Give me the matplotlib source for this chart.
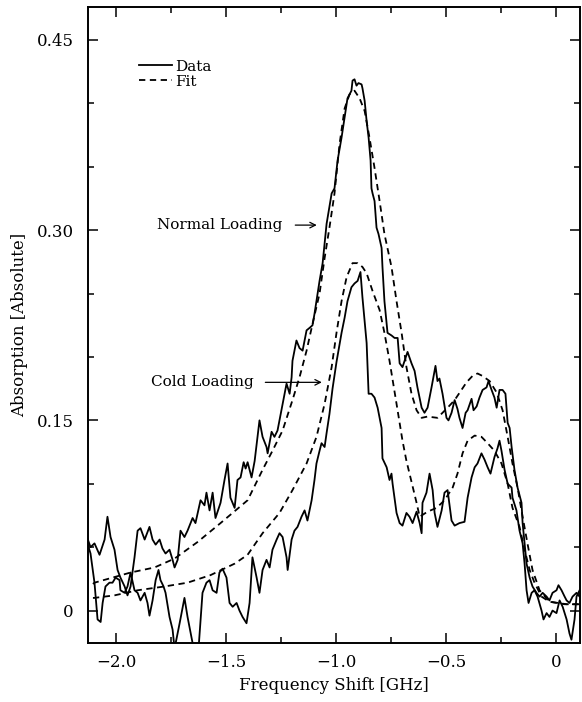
import matplotlib
matplotlib.use('Agg')
import matplotlib.pyplot as plt
from matplotlib.ticker import MultipleLocator

plt.rcParams['font.family'] = ['DejaVu Serif']

# Normal loading, measured
normal_x = [-2.130, -2.116, -2.098, -2.075, -2.052, -2.039, -2.025, -2.007, -1.993, -1.980,
            -1.961, -1.948, -1.934, -1.916, -1.902, -1.889, -1.870, -1.848, -1.834, -1.820,
            -1.802, -1.789, -1.775, -1.757, -1.743, -1.734, -1.720, -1.707, -1.689, -1.675,
            -1.652, -1.639, -1.616, -1.598, -1.589, -1.575, -1.561, -1.548, -1.525, -1.507,
            -1.493, -1.480, -1.461, -1.448, -1.434, -1.420, -1.411, -1.402, -1.384, -1.370,
            -1.357, -1.348, -1.334, -1.316, -1.311, -1.293, -1.280, -1.266, -1.243, -1.225,
            -1.211, -1.202, -1.198, -1.180, -1.166, -1.152, -1.134, -1.120, -1.107, -1.098,
            -1.089, -1.075, -1.061, -1.043, -1.020, -1.007, -0.993, -0.975, -0.961, -0.952,
            -0.948, -0.930, -0.925, -0.916, -0.907, -0.898, -0.884, -0.880, -0.870, -0.861,
            -0.852, -0.843, -0.839, -0.834, -0.825, -0.816, -0.807, -0.793, -0.789, -0.780,
            -0.766, -0.748, -0.734, -0.720, -0.711, -0.698, -0.675, -0.657, -0.643, -0.630,
            -0.611, -0.598, -0.584, -0.566, -0.548, -0.539, -0.530, -0.516, -0.498, -0.489,
            -0.475, -0.461, -0.448, -0.439, -0.425, -0.411, -0.402, -0.384, -0.375, -0.361,
            -0.348, -0.334, -0.316, -0.307, -0.293, -0.280, -0.270, -0.257, -0.243, -0.230,
            -0.220, -0.211, -0.202, -0.189, -0.175, -0.157, -0.152, -0.143, -0.134, -0.120,
            -0.107, -0.089, -0.075, -0.061, -0.043, -0.030, -0.016, 0.002, 0.011, 0.025,
            0.039, 0.048, 0.061, 0.075, 0.093, 0.107]
normal_y = [0.057, 0.050, 0.053, 0.044, 0.056, 0.074, 0.058, 0.048, 0.032, 0.026,
            0.019, 0.012, 0.019, 0.042, 0.063, 0.065, 0.056, 0.066, 0.056, 0.052,
            0.056, 0.049, 0.045, 0.048, 0.040, 0.034, 0.040, 0.063, 0.058, 0.063,
            0.073, 0.069, 0.087, 0.083, 0.093, 0.079, 0.093, 0.073, 0.085, 0.103,
            0.116, 0.089, 0.081, 0.103, 0.105, 0.117, 0.112, 0.117, 0.105, 0.118,
            0.137, 0.150, 0.137, 0.129, 0.124, 0.141, 0.137, 0.142, 0.163, 0.179,
            0.171, 0.184, 0.197, 0.213, 0.207, 0.205, 0.221, 0.223, 0.225, 0.234,
            0.244, 0.260, 0.274, 0.305, 0.329, 0.333, 0.355, 0.373, 0.389, 0.399,
            0.404, 0.410, 0.418, 0.419, 0.414, 0.416, 0.415, 0.412, 0.402, 0.386,
            0.373, 0.355, 0.333, 0.329, 0.323, 0.302, 0.297, 0.286, 0.271, 0.244,
            0.219, 0.217, 0.215, 0.215, 0.195, 0.192, 0.204, 0.195, 0.189, 0.176,
            0.160, 0.156, 0.160, 0.176, 0.193, 0.181, 0.183, 0.171, 0.152, 0.150,
            0.156, 0.166, 0.159, 0.152, 0.144, 0.156, 0.158, 0.167, 0.158, 0.161,
            0.168, 0.174, 0.176, 0.181, 0.174, 0.168, 0.160, 0.174, 0.174, 0.171,
            0.148, 0.144, 0.129, 0.111, 0.097, 0.085, 0.069, 0.053, 0.037, 0.026,
            0.019, 0.014, 0.011, 0.014, 0.011, 0.008, 0.014, 0.016, 0.020, 0.016,
            0.011, 0.008, 0.006, 0.011, 0.014, 0.011]

# Cold loading, measured
cold_x = [-2.130, -2.116, -2.098, -2.084, -2.070, -2.061, -2.048, -2.030, -2.016, -2.002,
          -1.984, -1.980, -1.961, -1.948, -1.934, -1.916, -1.902, -1.889, -1.870, -1.857,
          -1.848, -1.834, -1.820, -1.807, -1.798, -1.784, -1.775, -1.757, -1.743, -1.734,
          -1.711, -1.689, -1.675, -1.657, -1.645, -1.625, -1.607, -1.589, -1.575, -1.561,
          -1.543, -1.530, -1.516, -1.498, -1.484, -1.470, -1.452, -1.439, -1.425, -1.407,
          -1.393, -1.380, -1.361, -1.348, -1.334, -1.316, -1.302, -1.289, -1.270, -1.257,
          -1.243, -1.225, -1.220, -1.202, -1.189, -1.175, -1.157, -1.143, -1.130, -1.111,
          -1.098, -1.089, -1.075, -1.066, -1.052, -1.043, -1.030, -1.016, -0.998, -0.975,
          -0.961, -0.948, -0.930, -0.916, -0.902, -0.889, -0.880, -0.861, -0.852, -0.839,
          -0.825, -0.811, -0.793, -0.789, -0.770, -0.757, -0.748, -0.743, -0.725, -0.711,
          -0.698, -0.680, -0.666, -0.652, -0.634, -0.620, -0.611, -0.607, -0.589, -0.575,
          -0.561, -0.552, -0.539, -0.520, -0.507, -0.493, -0.475, -0.461, -0.439, -0.416,
          -0.402, -0.384, -0.370, -0.357, -0.339, -0.325, -0.311, -0.298, -0.280, -0.266,
          -0.257, -0.248, -0.234, -0.220, -0.202, -0.198, -0.180, -0.166, -0.152, -0.143,
          -0.134, -0.125, -0.111, -0.098, -0.084, -0.066, -0.057, -0.043, -0.030, -0.016,
          0.002, 0.016, 0.030, 0.048, 0.061, 0.070, 0.084, 0.093, 0.107]
cold_y = [0.053, 0.045, 0.022, -0.007, -0.009, 0.006, 0.019, 0.022, 0.022, 0.026,
          0.024, 0.016, 0.014, 0.019, 0.030, 0.016, 0.014, 0.008, 0.014, 0.006,
          -0.004, 0.008, 0.024, 0.032, 0.024, 0.019, 0.014, -0.005, -0.015, -0.030,
          -0.010, 0.010, -0.005, -0.021, -0.032, -0.030, 0.014, 0.022, 0.024, 0.016,
          0.014, 0.030, 0.033, 0.026, 0.006, 0.003, 0.006, 0.000, -0.005, -0.010,
          0.006, 0.042, 0.026, 0.014, 0.032, 0.040, 0.034, 0.048, 0.056, 0.061,
          0.058, 0.042, 0.032, 0.056, 0.063, 0.066, 0.074, 0.079, 0.071, 0.087,
          0.103, 0.116, 0.126, 0.132, 0.129, 0.140, 0.155, 0.175, 0.196, 0.219,
          0.231, 0.244, 0.255, 0.258, 0.260, 0.267, 0.247, 0.211, 0.171, 0.171,
          0.168, 0.160, 0.144, 0.120, 0.113, 0.103, 0.108, 0.100, 0.077, 0.069,
          0.067, 0.077, 0.074, 0.069, 0.078, 0.069, 0.061, 0.085, 0.093, 0.108,
          0.095, 0.077, 0.066, 0.079, 0.093, 0.095, 0.071, 0.067, 0.069, 0.070,
          0.089, 0.105, 0.113, 0.116, 0.124, 0.119, 0.113, 0.108, 0.121, 0.128,
          0.134, 0.126, 0.111, 0.100, 0.097, 0.089, 0.079, 0.063, 0.053, 0.037,
          0.016, 0.006, 0.014, 0.016, 0.011, 0.000, -0.007, -0.002, -0.005, 0.000,
          -0.002, 0.008, 0.003, -0.007, -0.018, -0.023, -0.007, 0.011, 0.016]

# Fitted profiles
normal_fit_x = [-2.105, -2.098, -1.934, -1.825, -1.734, -1.630, -1.525, -1.402, -1.334, -1.289,
                -1.243, -1.198, -1.166, -1.134, -1.107, -1.075, -1.052, -1.030, -1.007, -0.984,
                -0.961, -0.939, -0.916, -0.893, -0.870, -0.848, -0.825, -0.802, -0.780, -0.748,
                -0.725, -0.702, -0.680, -0.657, -0.634, -0.611, -0.584, -0.539, -0.493, -0.461,
                -0.430, -0.407, -0.380, -0.357, -0.334, -0.302, -0.270, -0.243, -0.220, -0.198,
                -0.175, -0.152, -0.130, -0.107, -0.075, -0.030, 0.048, 0.107]
normal_fit_y = [0.021, 0.022, 0.030, 0.034, 0.041, 0.054, 0.069, 0.087, 0.111, 0.126,
                0.142, 0.166, 0.184, 0.205, 0.226, 0.250, 0.278, 0.302, 0.329, 0.368,
                0.396, 0.407, 0.410, 0.404, 0.394, 0.373, 0.349, 0.323, 0.297, 0.271,
                0.244, 0.219, 0.192, 0.171, 0.158, 0.152, 0.153, 0.152, 0.160, 0.166,
                0.174, 0.180, 0.185, 0.187, 0.185, 0.181, 0.172, 0.158, 0.137, 0.116,
                0.097, 0.074, 0.053, 0.032, 0.016, 0.007, 0.005, 0.005]
cold_fit_x = [-2.105, -2.098, -2.007, -1.902, -1.780, -1.675, -1.570, -1.461, -1.402, -1.334,
              -1.257, -1.198, -1.134, -1.089, -1.052, -1.020, -0.998, -0.975, -0.952, -0.925,
              -0.902, -0.880, -0.861, -0.834, -0.802, -0.780, -0.757, -0.725, -0.698, -0.680,
              -0.666, -0.634, -0.620, -0.584, -0.543, -0.507, -0.470, -0.448, -0.425, -0.402,
              -0.370, -0.339, -0.311, -0.280, -0.248, -0.220, -0.198, -0.166, -0.143, -0.120,
              -0.098, -0.066, -0.030, 0.039, 0.107]
cold_fit_y = [0.010, 0.010, 0.012, 0.016, 0.019, 0.022, 0.028, 0.037, 0.044, 0.061,
              0.077, 0.095, 0.116, 0.137, 0.163, 0.192, 0.219, 0.244, 0.263, 0.274,
              0.274, 0.271, 0.266, 0.252, 0.237, 0.219, 0.197, 0.163, 0.134, 0.118,
              0.108, 0.085, 0.074, 0.078, 0.081, 0.087, 0.097, 0.108, 0.124, 0.134,
              0.138, 0.137, 0.132, 0.126, 0.116, 0.100, 0.081, 0.066, 0.048, 0.032,
              0.022, 0.011, 0.007, 0.005, 0.005]

fig = plt.figure(figsize=(5.82, 7.02), dpi=100)
ax = fig.add_axes([0.151, 0.084, 0.846, 0.906])

lw = 1.3
dash = (0, (3.5, 2.5))
ax.plot(normal_x, normal_y, color='black', lw=lw, label='Data')
ax.plot(normal_fit_x, normal_fit_y, color='black', lw=lw, ls=dash, label='Fit')
ax.plot(cold_x, cold_y, color='black', lw=lw)
ax.plot(cold_fit_x, cold_fit_y, color='black', lw=lw, ls=dash)

ax.set_xlim(-2.128, 0.11)
ax.set_ylim(-0.0256, 0.476)

ax.xaxis.set_minor_locator(MultipleLocator(0.25))
ax.yaxis.set_minor_locator(MultipleLocator(0.05))
ax.set_xticks([-2.0, -1.5, -1.0, -0.5, 0.0])
ax.set_xticklabels(['\u22122.0', '\u22121.5', '\u22121.0', '\u22120.5', '0'])
ax.set_yticks([0.0, 0.15, 0.30, 0.45])
ax.set_yticklabels(['0', '0.15', '0.30', '0.45'])

ax.tick_params(which='both', direction='in', top=True, right=True, width=1.1, labelsize=12)
ax.tick_params(which='major', length=7.5)
ax.tick_params(which='minor', length=4)
ax.tick_params(axis='x', pad=8)
ax.tick_params(axis='y', pad=10)
for s in ax.spines.values():
    s.set_linewidth(1.4)

ax.set_xlabel('Frequency Shift [GHz]', fontsize=12, labelpad=4)
ax.set_ylabel('Absorption [Absolute]', fontsize=12, labelpad=6)

ax.legend(loc='upper left', bbox_to_anchor=(0.088, 0.929), frameon=False,
          fontsize=11, handlelength=2.2, handletextpad=0.2, labelspacing=0.05,
          borderpad=0)

ax.text(-1.243, 0.304, 'Normal Loading', ha='right', va='center', fontsize=11)
ax.annotate('', xy=(-1.075, 0.304), xytext=(-1.198, 0.304),
            arrowprops=dict(arrowstyle='->', lw=0.9, color='black'))
ax.text(-1.375, 0.180, 'Cold Loading', ha='right', va='center', fontsize=11)
ax.annotate('', xy=(-1.052, 0.180), xytext=(-1.334, 0.180),
            arrowprops=dict(arrowstyle='->', lw=0.9, color='black'))

fig.savefig('out.png', dpi=100)
